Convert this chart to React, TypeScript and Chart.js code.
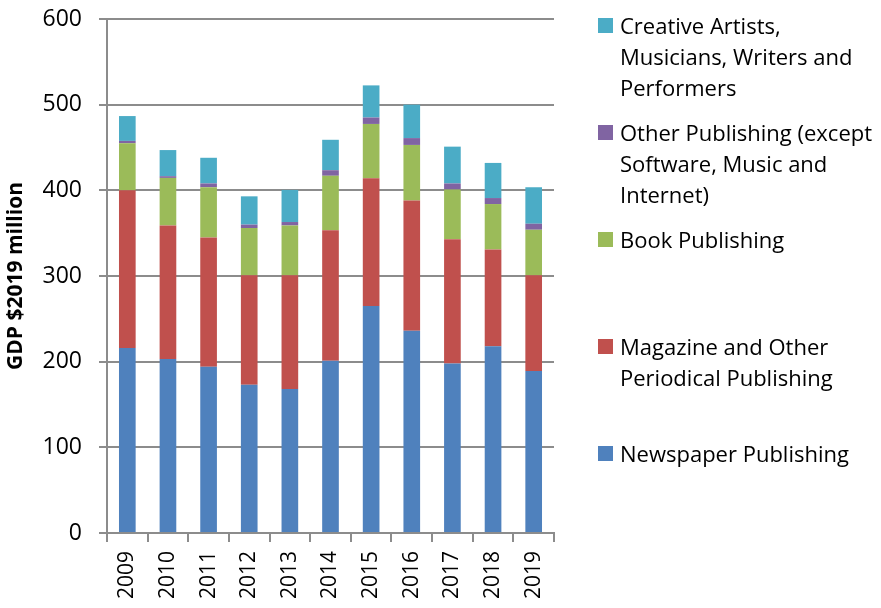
import React, { useEffect, useRef } from "react";
import { Chart, registerables } from "chart.js";

Chart.register(...registerables);

const years = ["2009", "2010", "2011", "2012", "2013", "2014", "2015", "2016", "2017", "2018", "2019"];
const newspaper = [216, 203, 194, 173, 168, 201, 265, 236, 198, 218, 189];
const magazine = [184, 156, 151, 128, 133, 152.5, 149, 152, 145, 113, 112];
const book = [55, 55.5, 58.6, 55, 58, 63.5, 63.5, 65, 58, 53, 53];
const otherPub = [2.7, 2, 4.4, 4, 4, 6.5, 7.5, 8, 7, 7, 7];
const creative = [29, 30.5, 30, 33, 37.5, 35.5, 37.5, 39, 43, 41, 42.6];

const seriesNames = [
  "Newspaper Publishing",
  "Magazine and Other Periodical Publishing",
  "Book Publishing",
  "Other Publishing (except Software, Music and Internet)",
  "Creative Artists, Musicians, Writers and Performers",
];
const seriesColors = ["#4F81BD", "#C0504D", "#9BBB59", "#8064A2", "#4BACC6"];
const seriesValues = [newspaper, magazine, book, otherPub, creative];

// legend order top to bottom, with line breaks as in the original
const legendOrder = [4, 3, 2, 1, 0];
const legendLines: string[][] = [
  ["Newspaper Publishing"],
  ["Magazine and Other", "Periodical Publishing"],
  ["Book Publishing"],
  ["Other Publishing (except", "Software, Music and", "Internet)"],
  ["Creative Artists,", "Musicians, Writers and", "Performers"],
];

const yTitle = "GDP $2019 million";
const FONT = "'Open Sans', 'Liberation Sans', sans-serif";

const noPad = (s: any) => {
  s.paddingTop = 0;
  s.paddingBottom = 0;
  s.paddingLeft = 0;
  s.paddingRight = 0;
};

export default function App() {
  const ref = useRef<HTMLCanvasElement | null>(null);

  useEffect(() => {
    if (!ref.current) return;
    const chart = new Chart(ref.current, {
      type: "bar",
      data: {
        labels: years,
        datasets: seriesValues.map((vals, i) => ({
          label: seriesNames[i],
          data: vals,
          backgroundColor: seriesColors[i],
          borderWidth: 0,
          categoryPercentage: 1,
          barPercentage: 0.41,
        })),
      },
      options: {
        animation: false,
        responsive: false,
        maintainAspectRatio: false,
        layout: { padding: { left: 0, right: 327, top: 19, bottom: 0 } },
        plugins: {
          legend: { display: false },
          tooltip: { enabled: false },
        },
        scales: {
          x: {
            stacked: true,
            offset: true,
            afterFit: (s: any) => {
              s.height = 75;
              noPad(s);
            },
            border: { display: true, color: "#8c8c8c", width: 2 },
            grid: {
              display: true,
              offset: true,
              drawOnChartArea: false,
              drawTicks: true,
              tickLength: 9,
              color: "#8c8c8c",
              lineWidth: 2,
            },
            ticks: {
              minRotation: 90,
              maxRotation: 90,
              color: "#000",
              padding: 9,
              font: { family: FONT, size: 21 },
            },
          },
          y: {
            stacked: true,
            min: 0,
            max: 600,
            afterFit: (s: any) => {
              s.width = 107;
              noPad(s);
            },
            border: { display: true, color: "#8c8c8c", width: 2 },
            grid: {
              color: "#8c8c8c",
              lineWidth: 2,
              drawTicks: true,
              tickLength: 8,
            },
            ticks: {
              stepSize: 100,
              color: "#000",
              padding: 17,
              font: { family: FONT, size: 23 },
            },
            title: {
              display: true,
              text: yTitle,
              color: "#000",
              padding: { top: 3, bottom: 0 },
              font: { family: FONT, size: 21, weight: "bold" },
            },
          },
        },
      },
    });
    return () => chart.destroy();
  }, []);

  return (
    <div style={{ position: "fixed", left: 0, top: 0, width: 881, height: 608, background: "#fff" }}>
      <canvas ref={ref} width={881} height={608} style={{ position: "absolute", left: 0, top: 0 }} />
      {legendOrder.map((si, k) => (
        <div
          key={si}
          style={{ position: "absolute", left: 598, top: 10 + k * 107, display: "flex", alignItems: "flex-start" }}
        >
          <div style={{ width: 15, height: 15, background: seriesColors[si], marginTop: 8, marginRight: 7 }} />
          <div style={{ fontFamily: FONT, fontSize: 22, lineHeight: "31px", color: "#000", whiteSpace: "nowrap" }}>
            {legendLines[si].map((l, j) => (
              <div key={j}>{l}</div>
            ))}
          </div>
        </div>
      ))}
    </div>
  );
}
